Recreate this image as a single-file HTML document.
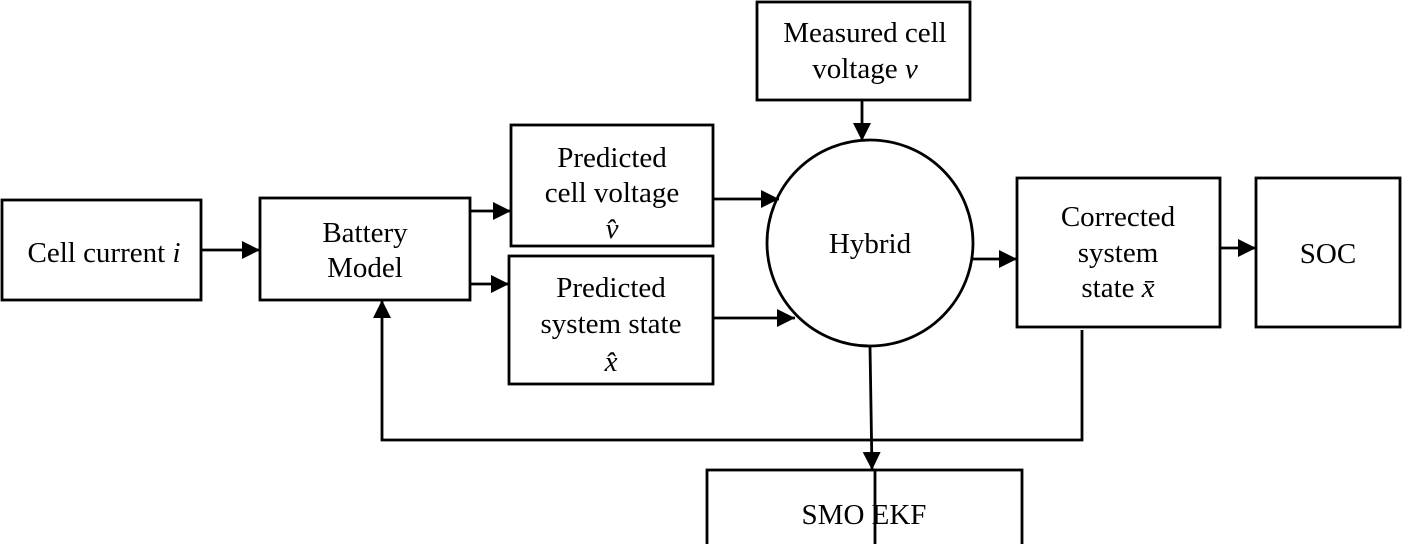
<!DOCTYPE html>
<html><head><meta charset="utf-8"><style>
body{margin:0;background:#fff}
svg text{font-family:"Liberation Serif",serif;font-size:29px;fill:#000}
</style></head><body>
<svg width="1402" height="544" viewBox="0 0 1402 544" xmlns="http://www.w3.org/2000/svg">
<defs><marker id="a" viewBox="0 0 10 10" refX="10" refY="5" markerWidth="18" markerHeight="18" markerUnits="userSpaceOnUse" orient="auto"><path d="M0,0L10,5L0,10z" fill="#000"/></marker></defs>
<g fill="none" stroke="#000" stroke-width="2.8">
<rect x="2" y="200" width="199" height="100"/>
<rect x="260" y="198" width="210" height="102"/>
<rect x="511" y="125" width="202" height="121"/>
<rect x="509" y="256" width="204" height="128"/>
<rect x="757" y="2" width="213" height="98"/>
<circle cx="870" cy="243" r="103"/>
<rect x="1017" y="178" width="203" height="149"/>
<rect x="1256" y="178" width="144" height="149"/>
<rect x="707" y="470" width="315" height="80"/>
<line x1="875" y1="470" x2="875" y2="544"/>
<line x1="201" y1="250" x2="260" y2="250" marker-end="url(#a)"/>
<line x1="470" y1="211" x2="511" y2="211" marker-end="url(#a)"/>
<line x1="470" y1="284" x2="509" y2="284" marker-end="url(#a)"/>
<line x1="713" y1="199" x2="779" y2="199" marker-end="url(#a)"/>
<line x1="713" y1="318" x2="795" y2="318" marker-end="url(#a)"/>
<line x1="862" y1="100" x2="862" y2="141" marker-end="url(#a)"/>
<line x1="973" y1="259" x2="1017" y2="259" marker-end="url(#a)"/>
<line x1="1220" y1="248" x2="1256" y2="248" marker-end="url(#a)"/>
<line x1="870" y1="346" x2="872" y2="470" marker-end="url(#a)"/>
<polyline points="1082,330 1082,440 382,440 382,300" marker-end="url(#a)"/>
</g>
<g text-anchor="middle">
<text x="104" y="262">Cell current <tspan font-style="italic">i</tspan></text>
<text x="365" y="242">Battery</text>
<text x="365" y="277">Model</text>
<text x="612" y="167">Predicted</text>
<text x="612" y="202">cell voltage</text>
<text x="612" y="238" font-size="20" font-style="italic">v̂</text>
<text x="611" y="297">Predicted</text>
<text x="611" y="333">system state</text>
<text x="611" y="371" font-style="italic">x̂</text>
<text x="865" y="42">Measured cell</text>
<text x="865" y="78">voltage <tspan font-style="italic">v</tspan></text>
<text x="870" y="253">Hybrid</text>
<text x="1118" y="226">Corrected</text>
<text x="1118" y="262">system</text>
<text x="1118" y="297">state <tspan font-style="italic">x̄</tspan></text>
<text x="1328" y="263">SOC</text>
<text x="864" y="524">SMO EKF</text>
</g>
</svg>
</body></html>
